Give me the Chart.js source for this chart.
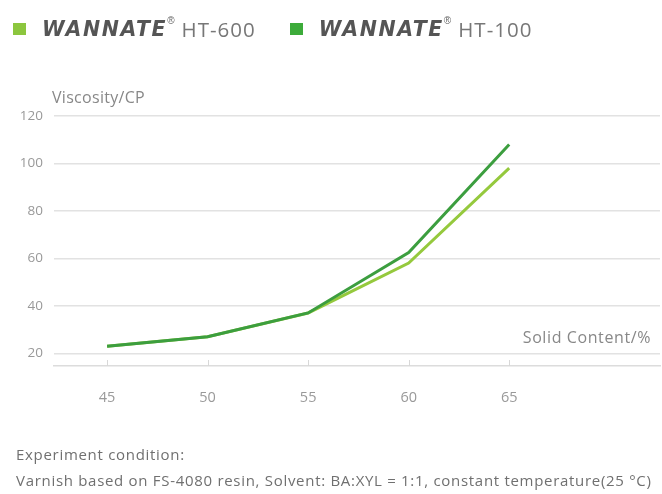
<!DOCTYPE html>
<html>
<head>
<meta charset="utf-8">
<script src="https://cdn.jsdelivr.net/npm/chart.js@4.4.1/dist/chart.umd.min.js"></script>
<style>
  html, body { margin: 0; padding: 0; background: #fff; }
  body { width: 662px; height: 494px; position: relative; overflow: hidden; font-family: "Open Sans", "Liberation Sans", sans-serif; }
  #wrap { position: absolute; left: 0; top: 0; width: 662px; height: 494px; }
  .legend { position: absolute; top: 15px; left: 13px; display: flex; align-items: center; white-space: nowrap; }
  .item { display: flex; align-items: center; margin-right: 34px; }
  .sw { width: 13px; height: 12px; margin-right: 16px; }
  .brand { font-family: "DejaVu Sans", sans-serif; font-weight: bold; font-style: italic; font-size: 20.5px; color: #555; letter-spacing: 1.6px; }
  .reg { font-size: 10px; color: #666; position: relative; top: -9px; margin-left: 0px; margin-right: 7px; font-family: "Liberation Sans", sans-serif; }
  .model { font-size: 20.5px; color: #777; font-family: "Open Sans", sans-serif; letter-spacing: 1px; }
  .foot { position: absolute; left: 16px; color: #707070; font-size: 15px; letter-spacing: 0.7px; font-family: "Open Sans", sans-serif; white-space: nowrap; }
</style>
</head>
<body>
<div id="wrap"><canvas id="c" width="662" height="494"></canvas></div>
<div class="legend" id="legend"></div>
<div class="foot" style="top:444px;">Experiment condition:</div>
<div class="foot" style="top:470px;">Varnish based on FS-4080 resin, Solvent: BA:XYL = 1:1, constant temperature(25 °C)</div>
<script>
const solidContent = [45, 50, 55, 60, 65];
const ht600 = [23, 27, 37, 58, 98];
const ht100 = [23, 27, 37, 62.5, 108];
const seriesNames = ["HT-600", "HT-100"];
const seriesColors = ["#95c93d", "#3c9e3f"];
const legendColors = ["#8cc63e", "#3cab3a"];
const yTicks = [20, 40, 60, 80, 100, 120];
const xTicks = [45, 50, 55, 60, 65];

// HTML legend (mixed font styles)
const legendEl = document.getElementById('legend');
seriesNames.forEach((name, i) => {
  const it = document.createElement('div');
  it.className = 'item';
  it.innerHTML = '<div class="sw" style="background:' + legendColors[i] + '"></div>' +
    '<span class="brand">WANNATE</span><span class="reg">®</span><span class="model">' + name + '</span>';
  legendEl.appendChild(it);
});

const toXY = (vals) => vals.map((v, i) => ({ x: solidContent[i], y: v }));

const annotate = {
  id: 'annotate',
  afterDraw(chart) {
    const { ctx, chartArea, scales } = chart;
    ctx.save();
    ctx.strokeStyle = '#d8d8d8';
    ctx.lineWidth = 1;
    xTicks.forEach(v => {
      const x = Math.round(scales.x.getPixelForValue(v)) + 0.5;
      ctx.beginPath();
      ctx.moveTo(x, chartArea.bottom - 6);
      ctx.lineTo(x, chartArea.bottom);
      ctx.stroke();
    });
    ctx.fillStyle = '#888';
    ctx.font = '16px "Open Sans", sans-serif';
    ctx.textBaseline = 'alphabetic';
    ctx.textAlign = 'left';
    try { ctx.letterSpacing = '0.3px'; } catch (e) {}
    ctx.fillText('Viscosity/CP', 52, scales.y.getPixelForValue(120) - 13);
    ctx.textAlign = 'right';
    try { ctx.letterSpacing = '0.6px'; } catch (e) {}
    ctx.fillText('Solid Content/%', 651, scales.y.getPixelForValue(20) - 10);
    ctx.restore();
  }
};

new Chart(document.getElementById('c'), {
  type: 'line',
  data: {
    datasets: [
      { label: seriesNames[0], data: toXY(ht600), borderColor: seriesColors[0], backgroundColor: seriesColors[0], borderWidth: 3, pointRadius: 0, tension: 0, order: 1 },
      { label: seriesNames[1], data: toXY(ht100), borderColor: seriesColors[1], backgroundColor: seriesColors[1], borderWidth: 3, pointRadius: 0, tension: 0, order: 0 }
    ]
  },
  options: {
    responsive: false,
    animation: false,
    devicePixelRatio: 1,
    layout: { padding: { top: 116, right: 2, bottom: 88, left: 0 } },
    plugins: { legend: { display: false }, tooltip: { enabled: false } },
    scales: {
      x: {
        type: 'linear',
        min: 42.36,
        max: 72.5,
        afterBuildTicks: (axis) => { axis.ticks = xTicks.map(v => ({ value: v })); },
        afterFit: (axis) => { axis.height = 40; },
        grid: { display: false },
        border: { display: true, color: '#dcdcdc', width: 1.5 },
        ticks: { color: '#999', font: { size: 14.5, family: '"Open Sans", sans-serif' }, padding: 15, maxRotation: 0, autoSkip: false }
      },
      y: {
        type: 'linear',
        min: 14.65,
        max: 120,
        afterBuildTicks: (axis) => { axis.ticks = yTicks.map(v => ({ value: v })); },
        afterFit: (axis) => { axis.width = 54; },
        grid: { color: '#e2e2e2', lineWidth: 1.5, drawTicks: false },
        border: { display: false },
        ticks: { color: '#999', font: { size: 13.5, family: '"Open Sans", sans-serif' }, padding: 11 }
      }
    }
  },
  plugins: [annotate]
});
</script>
</body>
</html>
